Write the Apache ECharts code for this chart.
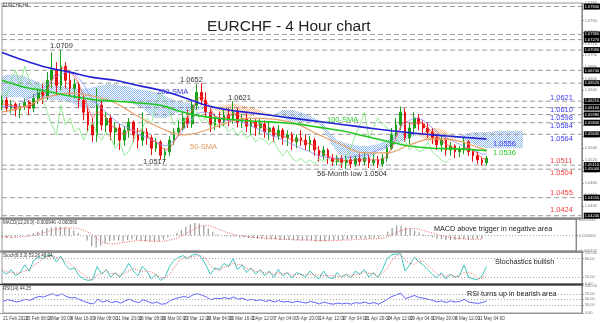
<!DOCTYPE html>
<html><head><meta charset="utf-8">
<script src="https://cdn.jsdelivr.net/npm/echarts@6/dist/echarts.min.js"></script>
<style>html,body{margin:0;padding:0;background:#fff}#c{width:600px;height:323px}</style>
</head><body><div id="c"></div>
<script>
const tickLabels = ['21 Feb 2020','25 Feb 08:00','2 Mar 00:00','4 Mar 16:00','9 Mar 08:00','11 Mar 20:00','16 Mar 08:00','19 Mar 00:00','23 Mar 12:00','26 Mar 04:00','30 Mar 16:00','2 Apr 12:00','7 Apr 04:00','9 Apr 20:00','14 Apr 12:00','17 Apr 04:00','21 Apr 20:00','24 Apr 12:00','29 Apr 04:00','1 May 20:00','6 May 12:00','11 May 04:00'];

const opens = [1.0614,1.0623,1.0609,1.0616,1.0606,1.0612,1.0619,1.0609,1.0626,1.0636,
1.0630,1.0657,1.0674,1.0648,1.0681,1.0657,1.0643,1.0650,1.0623,1.0602,
1.0580,1.0563,1.0614,1.0580,1.0592,1.0568,1.0575,1.0554,1.0571,1.0585,
1.0563,1.0554,1.0568,1.0558,1.0540,1.0551,1.0528,1.0534,1.0554,1.0568,
1.0575,1.0592,1.0582,1.0614,1.0636,1.0623,1.0602,1.0580,1.0592,1.0585,
1.0597,1.0588,1.0602,1.0585,1.0592,1.0578,1.0585,1.0575,1.0582,1.0568,
1.0575,1.0561,1.0571,1.0558,1.0563,1.0551,1.0558,1.0554,1.0546,1.0554,
1.0537,1.0527,1.0537,1.0523,1.0517,1.0523,1.0515,1.0520,1.0513,1.0522,
1.0517,1.0523,1.0515,1.0520,1.0513,1.0523,1.0540,1.0563,1.0580,1.0602,
1.0558,1.0575,1.0592,1.0582,1.0575,1.0568,1.0558,1.0546,1.0554,1.0537,
1.0544,1.0534,1.0537,1.0551,1.0534,1.0527,1.0520,1.0515];
const closes = [1.0623,1.0609,1.0616,1.0606,1.0612,1.0619,1.0609,1.0626,1.0636,1.0630,
1.0657,1.0674,1.0648,1.0681,1.0657,1.0643,1.0650,1.0623,1.0602,1.0580,
1.0563,1.0614,1.0580,1.0592,1.0568,1.0575,1.0554,1.0571,1.0585,1.0563,
1.0554,1.0568,1.0558,1.0540,1.0551,1.0528,1.0534,1.0554,1.0568,1.0575,
1.0592,1.0582,1.0614,1.0636,1.0623,1.0602,1.0580,1.0592,1.0585,1.0597,
1.0588,1.0602,1.0585,1.0592,1.0578,1.0585,1.0575,1.0582,1.0568,1.0575,
1.0561,1.0571,1.0558,1.0563,1.0551,1.0558,1.0554,1.0546,1.0554,1.0537,
1.0527,1.0537,1.0523,1.0517,1.0523,1.0515,1.0520,1.0513,1.0522,1.0517,
1.0523,1.0515,1.0520,1.0513,1.0523,1.0540,1.0563,1.0580,1.0602,1.0558,
1.0575,1.0592,1.0582,1.0575,1.0568,1.0558,1.0546,1.0554,1.0537,1.0544,
1.0534,1.0537,1.0551,1.0534,1.0527,1.0520,1.0515,1.0523];
const lows = [1.0606,1.0602,1.0600,1.0595,1.0592,1.0606,1.0597,1.0602,1.0616,1.0616,
1.0623,1.0643,1.0631,1.0640,1.0643,1.0630,1.0626,1.0609,1.0588,1.0568,
1.0551,1.0551,1.0571,1.0568,1.0554,1.0546,1.0537,1.0544,1.0558,1.0551,
1.0540,1.0544,1.0546,1.0528,1.0534,1.0520,1.0517,1.0527,1.0546,1.0561,
1.0571,1.0575,1.0575,1.0606,1.0614,1.0595,1.0568,1.0571,1.0575,1.0578,
1.0578,1.0582,1.0576,1.0575,1.0568,1.0564,1.0561,1.0564,1.0558,1.0554,
1.0551,1.0554,1.0546,1.0544,1.0537,1.0540,1.0544,1.0537,1.0534,1.0527,
1.0517,1.0520,1.0513,1.0510,1.0510,1.0506,1.0504,1.0506,1.0508,1.0510,
1.0511,1.0506,1.0510,1.0506,1.0508,1.0517,1.0537,1.0558,1.0571,1.0551,
1.0547,1.0568,1.0571,1.0564,1.0558,1.0547,1.0537,1.0534,1.0527,1.0527,
1.0523,1.0525,1.0530,1.0527,1.0517,1.0513,1.0510,1.0511];
const highs = [1.0631,1.0628,1.0623,1.0619,1.0618,1.0626,1.0623,1.0633,1.0643,1.0650,
1.0671,1.0705,1.0688,1.0709,1.0688,1.0671,1.0660,1.0654,1.0630,1.0609,
1.0592,1.0643,1.0623,1.0602,1.0597,1.0585,1.0582,1.0578,1.0592,1.0588,
1.0575,1.0602,1.0575,1.0563,1.0558,1.0554,1.0540,1.0561,1.0575,1.0588,
1.0602,1.0606,1.0623,1.0650,1.0652,1.0636,1.0609,1.0599,1.0602,1.0606,
1.0609,1.0621,1.0609,1.0599,1.0600,1.0592,1.0590,1.0592,1.0588,1.0585,
1.0578,1.0580,1.0575,1.0571,1.0568,1.0564,1.0571,1.0564,1.0561,1.0558,
1.0544,1.0544,1.0540,1.0530,1.0528,1.0528,1.0527,1.0527,1.0528,1.0530,
1.0534,1.0528,1.0530,1.0527,1.0530,1.0547,1.0575,1.0592,1.0612,1.0609,
1.0585,1.0602,1.0599,1.0588,1.0585,1.0575,1.0564,1.0561,1.0558,1.0551,
1.0547,1.0544,1.0558,1.0554,1.0537,1.0534,1.0525,1.0527];

const smaIdx = [0,5,10,15,20,25,30,35,40,45,50,55,60,65,70,75,80,85,90,95,100,105,107];
const sma200 = [1.0705,1.0691,1.0679,1.0671,1.0662,1.0657,1.0648,1.0640,1.0628,1.0614,1.0606,1.0601,1.0596,1.0591,1.0586,1.0581,1.0576,1.0571,1.0567,1.0563,1.0560,1.0557,1.0556];
const sma100 = [1.0657,1.0645,1.0638,1.0630,1.0624,1.0621,1.0618,1.0614,1.0602,1.0594,1.0590,1.0587,1.0585,1.0582,1.0576,1.0570,1.0561,1.0552,1.0544,1.0540,1.0539,1.0537,1.0536];
const sma50 = [1.0602,1.0612,1.0628,1.0635,1.0630,1.0618,1.0595,1.0575,1.0563,1.0571,1.0585,1.0592,1.0590,1.0582,1.0563,1.0546,1.0532,1.0532,1.0546,1.0556,1.0554,1.0542,1.0537];

const tenkan = [1.0616,1.0616,1.0614,1.0612,1.0611,1.0611,1.0612,1.0616,1.0623,1.0628,
1.0640,1.0657,1.0671,1.0678,1.0678,1.0671,1.0664,1.0650,1.0630,1.0609,
1.0592,1.0602,1.0602,1.0592,1.0580,1.0575,1.0568,1.0564,1.0571,1.0571,
1.0568,1.0571,1.0564,1.0554,1.0551,1.0544,1.0537,1.0540,1.0551,1.0564,
1.0578,1.0592,1.0606,1.0623,1.0630,1.0623,1.0609,1.0595,1.0592,1.0592,
1.0595,1.0599,1.0599,1.0592,1.0588,1.0585,1.0582,1.0578,1.0575,1.0571,
1.0568,1.0564,1.0561,1.0558,1.0554,1.0554,1.0554,1.0551,1.0547,1.0544,
1.0537,1.0530,1.0527,1.0523,1.0520,1.0520,1.0518,1.0518,1.0520,1.0520,
1.0520,1.0520,1.0520,1.0520,1.0520,1.0527,1.0540,1.0558,1.0578,1.0588,
1.0582,1.0582,1.0585,1.0582,1.0575,1.0568,1.0561,1.0554,1.0547,1.0544,
1.0540,1.0537,1.0540,1.0540,1.0537,1.0530,1.0523,1.0520];
const kijun = [1.0612,1.0612,1.0612,1.0612,1.0616,1.0623,1.0626,1.0630,1.0636,1.0643,
1.0650,1.0657,1.0664,1.0667,1.0671,1.0671,1.0667,1.0660,1.0650,1.0636,
1.0623,1.0616,1.0609,1.0602,1.0595,1.0588,1.0582,1.0578,1.0575,1.0571,
1.0564,1.0561,1.0558,1.0554,1.0551,1.0547,1.0544,1.0547,1.0554,1.0561,
1.0571,1.0582,1.0592,1.0599,1.0602,1.0602,1.0599,1.0595,1.0592,1.0588,
1.0588,1.0588,1.0588,1.0585,1.0582,1.0578,1.0575,1.0571,1.0568,1.0564,
1.0561,1.0558,1.0554,1.0551,1.0547,1.0544,1.0540,1.0537,1.0534,1.0530,
1.0527,1.0525,1.0523,1.0523,1.0523,1.0523,1.0523,1.0525,1.0527,1.0527,
1.0528,1.0530,1.0534,1.0537,1.0540,1.0544,1.0551,1.0561,1.0575,1.0582,
1.0588,1.0592,1.0592,1.0588,1.0582,1.0575,1.0568,1.0561,1.0558,1.0554,
1.0551,1.0547,1.0544,1.0540,1.0537,1.0534,1.0530,1.0530];

const spanA = [1.0664,1.0666,1.0667,1.0667,1.0666,1.0664,1.0660,1.0657,1.0654,1.0650,
1.0648,1.0648,1.0647,1.0647,1.0647,1.0645,1.0643,1.0643,1.0643,1.0643,
1.0645,1.0647,1.0648,1.0650,1.0650,1.0650,1.0648,1.0647,1.0647,1.0643,
1.0642,1.0640,1.0640,1.0638,1.0636,1.0633,1.0630,1.0626,1.0623,1.0621,
1.0619,1.0618,1.0616,1.0614,1.0612,1.0611,1.0609,1.0606,1.0602,1.0599,
1.0597,1.0595,1.0595,1.0595,1.0595,1.0595,1.0597,1.0599,1.0599,1.0599,
1.0599,1.0602,1.0606,1.0606,1.0606,1.0604,1.0602,1.0599,1.0595,1.0592,
1.0588,1.0582,1.0571,1.0561,1.0554,1.0551,1.0549,1.0547,1.0546,1.0544,
1.0544,1.0544,1.0546,1.0547,1.0551,1.0554,1.0561,1.0564,1.0568,1.0568,
1.0568,1.0564,1.0561,1.0558,1.0554,1.0551,1.0551,1.0551,1.0552,1.0554,
1.0558,1.0561,1.0564,1.0566,1.0568,1.0568,1.0568,1.0568,1.0568,1.0570,
1.0570,1.0570,1.0570,1.0570,1.0570,1.0570];
const spanB = [1.0626,1.0626,1.0628,1.0628,1.0628,1.0626,1.0626,1.0626,1.0626,1.0626,
1.0624,1.0623,1.0623,1.0623,1.0621,1.0619,1.0616,1.0612,1.0609,1.0609,
1.0609,1.0612,1.0616,1.0619,1.0623,1.0623,1.0623,1.0621,1.0619,1.0616,
1.0612,1.0609,1.0602,1.0595,1.0592,1.0592,1.0592,1.0595,1.0599,1.0602,
1.0602,1.0602,1.0604,1.0606,1.0607,1.0607,1.0609,1.0611,1.0612,1.0614,
1.0616,1.0616,1.0616,1.0614,1.0612,1.0611,1.0609,1.0606,1.0602,1.0600,
1.0599,1.0595,1.0592,1.0588,1.0587,1.0585,1.0585,1.0585,1.0585,1.0585,
1.0582,1.0571,1.0558,1.0544,1.0534,1.0527,1.0523,1.0520,1.0520,1.0520,
1.0520,1.0523,1.0527,1.0534,1.0537,1.0540,1.0544,1.0547,1.0551,1.0554,
1.0558,1.0561,1.0564,1.0568,1.0571,1.0575,1.0575,1.0573,1.0570,1.0564,
1.0561,1.0558,1.0554,1.0551,1.0547,1.0544,1.0542,1.0540,1.0540,1.0540,
1.0540,1.0540,1.0540,1.0540,1.0540,1.0540];

const macd = [-0.0003,-0.0004,-0.0003,-0.0002,-0.0001,0.0000,0.0002,0.0004,0.0006,0.0009,
0.0012,0.0013,0.0014,0.0014,0.0013,0.0011,0.0008,0.0004,0.0000,-0.0008,
-0.0017,-0.0019,-0.0016,-0.0012,-0.0009,-0.0008,-0.0008,-0.0009,-0.0007,-0.0006,
-0.0007,-0.0008,-0.0009,-0.0010,-0.0010,-0.0009,-0.0006,-0.0003,0.0000,0.0004,
0.0009,0.0014,0.0018,0.0020,0.0019,0.0016,0.0011,0.0006,0.0002,0.0000,
-0.0001,-0.0002,-0.0002,-0.0003,-0.0003,-0.0004,-0.0004,-0.0005,-0.0005,-0.0006,
-0.0006,-0.0006,-0.0007,-0.0007,-0.0007,-0.0007,-0.0007,-0.0008,-0.0008,-0.0008,
-0.0009,-0.0009,-0.0009,-0.0008,-0.0008,-0.0007,-0.0007,-0.0006,-0.0006,-0.0005,
-0.0005,-0.0005,-0.0005,-0.0004,-0.0004,0.0000,0.0006,0.0012,0.0016,0.0015,
0.0013,0.0011,0.0008,0.0005,0.0002,-0.0001,-0.0003,-0.0005,-0.0006,-0.0007,
-0.0007,-0.0007,-0.0006,-0.0006,-0.0007,-0.0006,-0.0005,-0.0005];
const macdSignal = [-0.0002,-0.0002,-0.0003,-0.0003,-0.0002,-0.0002,-0.0001,0.0000,0.0002,0.0004,
0.0006,0.0008,0.0010,0.0011,0.0012,0.0012,0.0012,0.0011,0.0009,0.0006,
0.0002,-0.0004,-0.0009,-0.0012,-0.0013,-0.0013,-0.0012,-0.0011,-0.0010,-0.0009,
-0.0008,-0.0008,-0.0008,-0.0009,-0.0009,-0.0009,-0.0009,-0.0008,-0.0006,-0.0004,
-0.0001,0.0003,0.0007,0.0011,0.0014,0.0016,0.0016,0.0014,0.0011,0.0008,
0.0005,0.0003,0.0001,0.0000,-0.0001,-0.0002,-0.0003,-0.0003,-0.0004,-0.0004,
-0.0005,-0.0005,-0.0006,-0.0006,-0.0006,-0.0007,-0.0007,-0.0007,-0.0007,-0.0007,
-0.0008,-0.0008,-0.0008,-0.0008,-0.0008,-0.0008,-0.0007,-0.0007,-0.0007,-0.0006,
-0.0006,-0.0006,-0.0005,-0.0005,-0.0005,-0.0004,-0.0002,0.0001,0.0005,0.0008,
0.0010,0.0011,0.0011,0.0010,0.0008,0.0006,0.0004,0.0002,0.0000,-0.0002,
-0.0003,-0.0004,-0.0005,-0.0005,-0.0006,-0.0006,-0.0006,-0.0006];

const stochK = [40,30,45,25,35,60,40,75,85,80,
90,92,70,88,60,45,50,25,15,10,
12,55,30,45,20,35,20,40,65,40,
25,55,40,15,30,10,20,55,75,85,
90,80,92,95,85,60,30,50,45,65,
55,80,45,60,35,50,30,45,25,40,
20,45,25,35,18,35,30,20,40,25,
15,40,20,15,35,20,30,18,40,30,
45,20,35,18,45,80,92,95,96,40,
60,85,70,60,45,30,18,35,15,30,
20,25,60,20,15,12,25,55];
const stochD = [45,38,35,33,35,40,45,58,67,80,
85,88,84,83,72,64,52,40,30,17,
12,26,32,43,32,33,25,32,42,48,
43,40,40,37,28,18,20,28,50,72,
83,85,87,89,90,80,58,47,42,53,
55,67,60,62,47,48,38,42,33,37,
28,35,30,35,26,29,28,28,30,28,
27,27,25,25,23,23,28,23,29,29,
38,32,33,24,33,48,72,89,94,77,
65,62,72,72,58,45,31,28,23,27,
22,25,35,35,32,16,17,31];
const rsi = [42,48,45,40,44,50,46,55,60,58,
65,70,62,70,60,55,56,48,42,36,
33,50,40,45,38,42,36,44,50,42,
38,48,42,35,40,32,34,45,52,56,
60,56,66,70,65,58,48,54,52,56,
52,58,50,54,46,50,45,48,42,46,
40,45,40,42,38,42,40,36,42,38,
33,40,35,32,36,33,36,32,38,35,
40,34,38,32,40,50,60,66,72,52,
58,64,56,54,50,46,40,44,38,44,
40,42,50,40,37,35,38,44];

const levels = [1.0784,1.0736,1.0727,1.0709,1.0674,1.0652,1.0621,1.0610,1.0598,1.0584,1.0564,1.0511,1.0504,1.0455,1.0424];
const chikouShift = 8;
const nCat = 129;

const cats = Array.from({length: nCat}, (_, i) => String(i));
const candles = opens.map((o, i) => [o, closes[i], lows[i], highs[i]]);
const pairs = arr => arr.map((v, k) => [smaIdx[k], v]);
const cloudBase = spanA.map((a, i) => Math.min(a, spanB[i]));
const cloudBull = spanA.map((a, i) => a >= spanB[i] ? a - spanB[i] : 0);
const cloudBear = spanA.map((a, i) => spanB[i] > a ? spanB[i] - a : 0);
const lagging = closes.slice(chikouShift);

function pattern(col) {
  const c = document.createElement('canvas'); c.width = 2; c.height = 2;
  const g = c.getContext('2d'); g.fillStyle = col;
  g.fillRect(0, 0, 1, 1); g.fillRect(1, 1, 1, 1);
  return c;
}
const FONT = '"Liberation Sans", Arial, sans-serif';
const chart = echarts.init(document.getElementById('c'), null, {renderer: 'canvas'});

const grids = [
  {left: 2, right: 17, top: 3, height: 215},
  {left: 2, right: 17, top: 219.5, height: 31.5},
  {left: 2, right: 17, top: 252.5, height: 31},
  {left: 2, right: 17, top: 285.5, height: 27.5}
].map(g => Object.assign(g, {show: true, borderColor: '#999', borderWidth: 1, containLabel: false}));

const xAxes = [0,1,2,3].map(i => ({
  gridIndex: i, type: 'category', data: cats, boundaryGap: false,
  axisLine: {show: false}, axisTick: {show: false}, splitLine: {show: false},
  axisLabel: i === 3 ? {
    show: true, interval: 0, fontSize: 4.5, color: '#444', fontFamily: FONT, margin: 3, align: 'left',
    formatter: (v, idx) => (idx % 5 === 0 && tickLabels[idx / 5]) ? tickLabels[idx / 5] : ''
  } : {show: false}
}));

const yCommon = {
  type: 'value', position: 'right', splitLine: {show: false},
  axisLine: {show: true, lineStyle: {color: '#888', width: 1}},
  axisTick: {show: true, length: 2, lineStyle: {color: '#888'}}
};
const yAxes = [
  Object.assign({}, yCommon, {gridIndex: 0, min: 1.042, max: 1.079, interval: 0.002,
    axisLabel: {fontSize: 4, color: '#777', margin: 3, fontFamily: FONT, formatter: v => v.toFixed(4)}}),
  Object.assign({}, yCommon, {gridIndex: 1, min: -0.002447, max: 0.002544,
    axisLabel: {fontSize: 4, color: '#777', margin: 3, fontFamily: FONT, customValues: [-0.002447, 0, 0.002544], formatter: v => v.toFixed(6)},
    axisTick: {show: true, length: 2, lineStyle: {color: '#888'}, customValues: [-0.002447, 0, 0.002544]}}),
  Object.assign({}, yCommon, {gridIndex: 2, min: 0, max: 100,
    axisLabel: {fontSize: 4, color: '#777', margin: 3, fontFamily: FONT, customValues: [0, 20, 80, 100], formatter: v => v.toFixed(2)},
    axisTick: {show: true, length: 2, lineStyle: {color: '#888'}, customValues: [0, 20, 80, 100]}}),
  Object.assign({}, yCommon, {gridIndex: 3, min: 0, max: 100,
    axisLabel: {fontSize: 4, color: '#777', margin: 3, fontFamily: FONT, customValues: [0, 30, 50, 70, 100], formatter: v => v.toFixed(2)},
    axisTick: {show: true, length: 2, lineStyle: {color: '#888'}, customValues: [0, 30, 50, 70, 100]}})
];

const thinLine = (name, data, color, width, extra) => Object.assign({
  name, type: 'line', data, symbol: 'none', silent: true, animation: false,
  lineStyle: {color, width}, xAxisIndex: 0, yAxisIndex: 0, z: 3
}, extra || {});

const dotted = vals => ({
  silent: true, symbol: 'none', label: {show: false}, animation: false,
  lineStyle: {type: [1, 2], color: '#aaa', width: 1},
  data: vals.map(v => ({yAxis: v}))
});

const levelSeries = levels.map((v, k) => ({
  name: 'level' + k, type: 'line', data: [[0, v], [nCat - 1, v]], symbol: 'none', silent: true, animation: false,
  xAxisIndex: 0, yAxisIndex: 0, z: 1,
  lineStyle: {type: [5, 3], color: '#999', width: 1},
  labelLayout: {hideOverlap: false},
  endLabel: {show: true, distance: 2, fontSize: 4, color: '#fff', backgroundColor: '#000', padding: [1, 1],
    fontFamily: FONT, formatter: () => v.toFixed(5)}
}));

const series = levelSeries.concat([
  {name: 'cloudBase', type: 'line', stack: 'cloud', data: cloudBase, symbol: 'none', silent: true,
   lineStyle: {width: 0, opacity: 0}, xAxisIndex: 0, yAxisIndex: 0, z: 1, animation: false},
  {name: 'cloudBull', type: 'line', stack: 'cloud', data: cloudBull, symbol: 'none', silent: true,
   lineStyle: {width: 0, opacity: 0}, areaStyle: {color: {image: pattern('#8fb8ec'), repeat: 'repeat'}, opacity: 1},
   xAxisIndex: 0, yAxisIndex: 0, z: 1, animation: false},
  {name: 'cloudBear', type: 'line', stack: 'cloud', data: cloudBear, symbol: 'none', silent: true,
   lineStyle: {width: 0, opacity: 0}, areaStyle: {color: {image: pattern('#f2b88a'), repeat: 'repeat'}, opacity: 1},
   xAxisIndex: 0, yAxisIndex: 0, z: 1, animation: false},
  {name: 'price', type: 'candlestick', data: candles, xAxisIndex: 0, yAxisIndex: 0, barWidth: 2.2, clip: false, z: 2,
   animation: false,
   itemStyle: {color: '#1aa01a', color0: '#e81010', borderColor: '#1aa01a', borderColor0: '#e81010', borderWidth: 1}},
  thinLine('chikou', lagging, '#7de67d', 0.8),
  thinLine('kijun', kijun, '#8f8fff', 0.8),
  thinLine('tenkan', tenkan, '#ff5050', 0.8),
  thinLine('sma50', pairs(sma50), '#e6a06a', 1.2, {smooth: 0.4}),
  thinLine('sma100', pairs(sma100), '#1ec81e', 1.6, {smooth: 0.4}),
  thinLine('sma200', pairs(sma200), '#2222d6', 1.6, {smooth: 0.4}),
  {name: 'macd', type: 'bar', data: macd, xAxisIndex: 1, yAxisIndex: 1, barWidth: 1.2, silent: true, animation: false,
   itemStyle: {color: '#9a9a9a'}, markLine: dotted([0])},
  {name: 'signal', type: 'line', data: macdSignal, xAxisIndex: 1, yAxisIndex: 1, symbol: 'none', silent: true, animation: false,
   lineStyle: {color: '#f05a5a', width: 1, type: [1, 1.5]}},
  {name: 'stochK', type: 'line', data: stochK, xAxisIndex: 2, yAxisIndex: 2, symbol: 'none', silent: true, animation: false,
   lineStyle: {color: '#3ec6c0', width: 1}, markLine: dotted([20, 80])},
  {name: 'stochD', type: 'line', data: stochD, xAxisIndex: 2, yAxisIndex: 2, symbol: 'none', silent: true, animation: false,
   lineStyle: {color: '#f06060', width: 1, type: [1, 1.5]}},
  {name: 'rsi', type: 'line', data: rsi, xAxisIndex: 3, yAxisIndex: 3, symbol: 'none', silent: true, animation: false,
   lineStyle: {color: '#6262ff', width: 1}, markLine: dotted([30, 50, 70])}
]);

const t = (text, x, y, fill, size, extra) => ({type: 'text', x, y, z: 50, silent: true,
  style: Object.assign({text, fill, font: size + 'px ' + FONT, verticalAlign: 'middle'}, extra || {})});
const hl = (y, color, w) => ({type: 'line', z: 40, silent: true, shape: {x1: 0, y1: y, x2: 583, y2: y}, style: {stroke: color, lineWidth: w}});

const graphic = [
  hl(218.5, '#888', 2), hl(251.5, '#888', 2), hl(284.5, '#333', 1.5), hl(313.5, '#999', 1),
  t('EURCHF,H4', 3, 6, '#333', 4.5),
  t('EURCHF - 4 Hour chart', 207, 27, '#222', 15.5),
  t('1.0709', 50, 46, '#333', 7.5),
  t('1.0652', 180, 80, '#333', 7.5),
  t('1.0621', 228, 97.5, '#333', 7.5),
  t('200-SMA', 157, 91.5, '#3434d8', 7.5),
  t('100-SMA', 327, 119.5, '#2ec82e', 7.5),
  t('50-SMA', 190, 146.5, '#e0995e', 7.5),
  t('1.0517', 143, 161.5, '#333', 7.5),
  t('56-Month low 1.0504', 317, 174, '#333', 7.5),
  t('1.0556', 493, 143.5, '#3c3cf0', 7.5),
  t('1.0536', 493, 153, '#2ec82e', 7.5),
  t('1.0621', 550, 98, '#3c3cf0', 7.5),
  t('1.0610', 550, 110, '#3c3cf0', 7.5),
  t('1.0598', 550, 117.5, '#3c3cf0', 7.5),
  t('1.0584', 550, 125.5, '#3c3cf0', 7.5),
  t('1.0564', 550, 138.5, '#3c3cf0', 7.5),
  t('1.0511', 550, 160.5, '#f03c3c', 7.5),
  t('1.0504', 550, 172.5, '#f03c3c', 7.5),
  t('1.0455', 550, 192.5, '#f03c3c', 7.5),
  t('1.0424', 550, 210, '#f03c3c', 7.5),
  t('MACD(12,26,9) -0.000946 -0.000560', 3, 223, '#333', 4.5),
  t('Stoch(8,3,3) 53.26 48.94', 3, 256, '#333', 4.5),
  t('RSI(14) 44.25', 3, 289, '#333', 4.5),
  t('MACD above trigger in negative area', 434, 229, '#222', 7.2),
  t('Stochastics bullish', 495, 262, '#222', 7.2),
  t('RSI turns up in bearish area', 467, 294, '#222', 7.2)
];

chart.setOption({
  animation: false, backgroundColor: '#fff',
  grid: grids, xAxis: xAxes, yAxis: yAxes, series, graphic
});
</script></body></html>
